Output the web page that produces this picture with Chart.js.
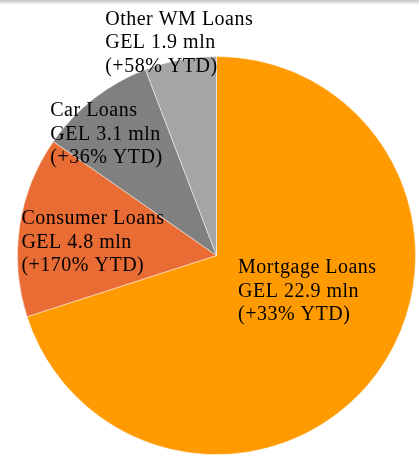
<!DOCTYPE html>
<html>
<head>
<meta charset="utf-8">
<script src="https://cdn.jsdelivr.net/npm/chart.js@4"></script>
<style>
  html, body { margin:0; padding:0; background:#fff; }
  #wrap { position:relative; width:419px; height:456px; }
  #shade { position:absolute; left:0; top:0; width:419px; height:5px;
           background:linear-gradient(#c4c4c4, rgba(255,255,255,0)); z-index:2; }
</style>
</head>
<body>
<div id="wrap">
  <div id="shade"></div>
  <canvas id="c" width="419" height="456"></canvas>
</div>
<script>
const categories = ["Mortgage Loans", "Consumer Loans", "Car Loans", "Other WM Loans"];
const amounts = [22.9, 4.8, 3.1, 1.9];
const amountLabels = ["GEL 22.9 mln", "GEL 4.8 mln", "GEL 3.1 mln", "GEL 1.9 mln"];
const ytdLabels = ["(+33% YTD)", "(+170% YTD)", "(+36% YTD)", "(+58% YTD)"];
const colors = ["#FF9B00", "#EA6C35", "#808080", "#A5A5A5"];
// label anchor offsets (fractions of radius, from pie centre) for first-line baseline/left edge
const labelOffsets = [[0.108, 0.088], [-0.98, -0.158], [-0.835, -0.699], [-0.559, -1.160]];

const labelPlugin = {
  id: 'sliceLabels',
  afterDatasetsDraw(chart) {
    const ctx = chart.ctx;
    const meta = chart.getDatasetMeta(0);
    ctx.save();
    ctx.font = '20px "Liberation Serif", "Times New Roman", serif';
    if ('letterSpacing' in ctx) ctx.letterSpacing = '0.5px';
    ctx.fillStyle = '#000';
    ctx.textAlign = 'left';
    ctx.textBaseline = 'alphabetic';
    meta.data.forEach((arc, i) => {
      const r = arc.outerRadius;
      const x = arc.x + labelOffsets[i][0] * r;
      const y = arc.y + labelOffsets[i][1] * r;
      const lines = [categories[i], amountLabels[i], ytdLabels[i]];
      lines.forEach((t, k) => ctx.fillText(t, x, y + k * 23.5));
    });
    ctx.restore();
  }
};

new Chart(document.getElementById('c'), {
  type: 'pie',
  data: {
    labels: categories,
    datasets: [{
      data: amounts,
      backgroundColor: colors,
      borderColor: 'rgba(255,255,255,0.6)',
      borderWidth: 0.8
    }]
  },
  options: {
    responsive: false,
    animation: false,
    layout: { padding: { top: 56, bottom: 1, left: 17, right: 3 } },
    plugins: { legend: { display: false }, tooltip: { enabled: false } }
  },
  plugins: [labelPlugin]
});
</script>
</body>
</html>
